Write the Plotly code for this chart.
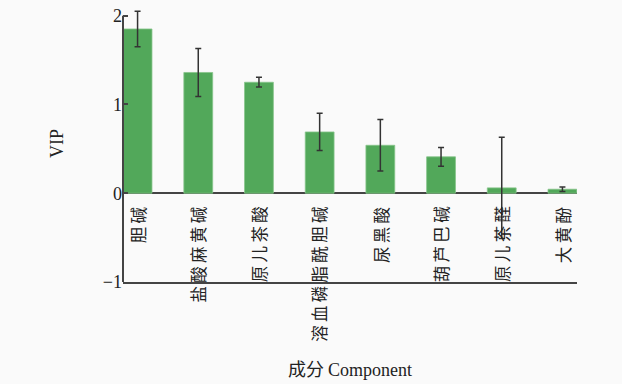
import plotly.graph_objects as go

# VIP scores of each component with their standard deviations
components = ["胆碱", "盐酸麻黄碱", "原儿茶酸", "溶血磷脂酰胆碱", "尿黑酸", "葫芦巴碱", "原儿茶醛", "大黄酚"]
vip = [1.85, 1.36, 1.25, 0.69, 0.54, 0.41, 0.06, 0.045]
vip_err = [0.20, 0.27, 0.055, 0.21, 0.29, 0.105, 0.57, 0.025]

ytick_vals = [-1, 0, 1, 2]
ytick_text = ["−1", "0", "1", "2"]
y_low, y_high = -1, 2

serif = "Liberation Serif, Times New Roman, serif"
cjk = "Noto Sans CJK SC, Liberation Serif, serif"
axis_color = "#444444"

fig = go.Figure()
fig.add_trace(go.Bar(
    x=components,
    y=vip,
    width=0.475,
    marker=dict(color="#52a85a", line=dict(color="#86c48a", width=0.8)),
    error_y=dict(type="data", array=vip_err, visible=True,
                 color="#333333", thickness=1.5, width=3),
))

# Left axis line spans only the labelled range so error caps can rise above it
fig.add_shape(type="line", xref="paper", yref="y", x0=0, x1=0,
              y0=y_low, y1=y_high, line=dict(color=axis_color, width=2))

# Component names sit just below the zero line, rotated to read upward
for name in components:
    fig.add_annotation(
        x=name, y=0, xref="x", yref="y",
        text="\u2009".join(name), showarrow=False, textangle=-90,
        xanchor="center", yanchor="top", yshift=-11,
        font=dict(family=cjk, size=16.5, color="#222222"),
    )

# Axis title placed well below the lower frame line
fig.add_annotation(
    x=0.5, y=-0.31, xref="paper", yref="paper",
    text="成分 <span style='font-family:Liberation Serif'>Component</span>",
    showarrow=False, xanchor="center", yanchor="middle",
    font=dict(family=cjk, size=18, color="#222222"),
)

fig.update_layout(
    width=622, height=384,
    margin=dict(l=123, r=45, t=5, b=102),
    paper_bgcolor="#fafafa",
    plot_bgcolor="#fafafa",
    showlegend=False,
    xaxis=dict(
        type="category",
        range=[-0.24, 7.24],
        showticklabels=False,
        ticks="",
        showgrid=False,
        showline=True, linecolor=axis_color, linewidth=2,
    ),
    yaxis=dict(
        range=[y_low, 2.12],
        tickvals=ytick_vals, ticktext=ytick_text,
        ticks="inside", ticklen=5, tickwidth=2, tickcolor=axis_color,
        tickfont=dict(family=serif, size=18, color="#222222"),
        showgrid=False,
        showline=False,
        zeroline=True, zerolinecolor=axis_color, zerolinewidth=2,
        title=dict(text="VIP", font=dict(family=serif, size=18, color="#222222"), standoff=34),
    ),
)

fig.write_html("out.html")
